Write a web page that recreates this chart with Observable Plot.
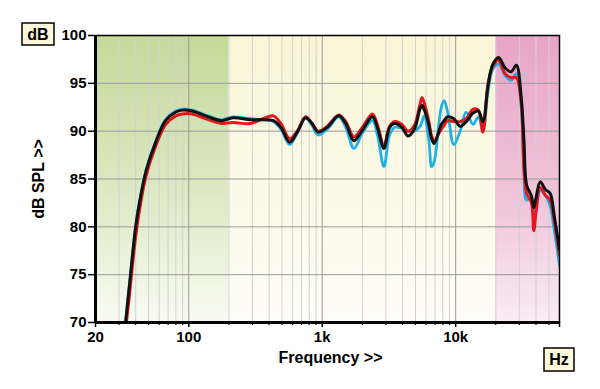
<!DOCTYPE html>
<html><head><meta charset="utf-8">
<script src="https://cdn.jsdelivr.net/npm/d3@7"></script>
<script src="https://cdn.jsdelivr.net/npm/@observablehq/plot@0.6"></script>
<style>body{margin:0;background:#fff}</style>
</head><body><div id="chart"></div>
<script>
// Frequency points (Hz)
const freqs = [32, 33.6, 36, 40, 43, 48, 56, 67, 80, 90, 106, 140, 175, 215, 290, 360, 430, 490, 570, 650,
  750, 840, 930, 1090, 1330, 1500, 1730, 2000, 2380, 2600, 2900, 3200, 3500, 3950, 4400, 4900, 5400, 5600,
  5800, 6300, 6600, 6900, 7800, 8200, 8700, 9700, 10800, 12000, 13500, 14800, 16000, 17500, 19000, 21000,
  23500, 26000, 28500, 31000, 32500, 34000, 37000, 38500, 40000, 43000, 47000, 51000, 55000, 60000];
// Black trace (dB SPL)
const dbBlack = [67.2, 70.0, 74.0, 80.0, 82.75, 85.9, 88.7, 91.1, 92.0, 92.2, 92.1, 91.5, 91.1, 91.4, 91.2, 91.2, 91.1, 90.4, 88.85, 89.9,
  91.4, 90.8, 89.9, 90.4, 91.6, 90.8, 89.0, 90.1, 91.5, 90.3, 88.2, 90.4, 90.8, 90.4, 89.5, 90.2, 92.3, 92.7,
  92.3, 90.6, 89.2, 88.7, 90.7, 91.1, 91.5, 91.3, 90.5, 91.0, 91.9, 92.1, 91.0, 94.8, 97.0, 97.7,
  96.6, 96.2, 96.9, 93.5, 89.0, 84.4, 83.2, 82.0, 83.0, 84.7, 83.9, 83.5, 81.0, 77.6];
// Red trace (dB SPL)
const dbRed = [66.5, 69.2, 73.0, 79.0, 82.0, 85.4, 88.3, 90.7, 91.6, 91.8, 91.8, 91.2, 90.8, 90.9, 90.8, 91.3, 91.6, 90.8, 89.2, 90.0,
  91.5, 90.8, 90.0, 90.5, 91.7, 91.0, 89.4, 90.4, 91.8, 90.6, 88.5, 90.5, 91.0, 90.7, 90.0, 90.6, 92.8, 93.5,
  93.0, 91.0, 89.5, 89.0, 90.2, 90.6, 91.1, 91.0, 91.0, 91.3, 92.3, 92.2, 89.9, 95.0, 96.8, 97.4,
  96.0, 95.6, 95.6, 93.0, 86.0, 83.5, 82.5, 79.6, 81.5, 84.1, 83.3, 82.8, 80.5, 77.0];
// Cyan trace (dB SPL)
const dbCyan = [67.3, 70.1, 74.1, 80.1, 82.8, 86.0, 88.8, 91.2, 92.1, 92.3, 92.2, 91.6, 91.2, 91.5, 91.3, 91.2, 91.0, 90.2, 88.6, 89.8,
  91.4, 90.6, 89.6, 90.2, 91.5, 90.4, 88.2, 89.8, 91.1, 89.5, 86.3, 89.6, 90.4, 90.3, 90.0, 90.0, 90.5, 91.0,
  91.6, 89.0, 86.3, 86.8, 92.5, 93.2, 92.0, 88.6, 90.0, 92.0, 90.7, 91.5, 90.0, 94.2, 96.5, 97.0,
  95.8, 95.3, 96.0, 92.5, 86.0, 82.8, 83.0, 81.4, 82.0, 83.8, 83.3, 82.2, 79.5, 76.0];

const yTicks = [70, 75, 80, 85, 90, 95, 100];
const yGrid = [75, 80, 85, 90, 95];
const xTickValues = [20, 100, 1000, 10000, 60000];
const xTickLabels = ["20", "100", "1k", "10k", "60k"];
const majorGrid = [100, 1000, 10000];
const minorGrid = [30, 40, 50, 60, 70, 80, 90, 200, 300, 400, 500, 600, 700, 800, 900,
  2000, 3000, 4000, 5000, 6000, 7000, 8000, 9000, 20000, 30000, 40000, 50000];
const bandEdges = [[20, 200], [200, 20000], [20000, 60000]];
const bandIds = ["gGreen", "gYellow", "gPink"];
const unitLabels = ["dB", "Hz"];
const axisTitles = ["dB SPL >>", "Frequency >>"];

const FONT = "'Liberation Sans', Arial, sans-serif";
const toRows = vals => freqs.map((f, i) => ({f, db: vals[i]}));

const defs = () => {
  const d = document.createElementNS("http://www.w3.org/2000/svg", "defs");
  d.innerHTML = `
  <linearGradient id="gGreen" x1="0" y1="0" x2="0" y2="1">
    <stop offset="0" stop-color="#c4d99a"/><stop offset="0.55" stop-color="#dde9c4"/><stop offset="1" stop-color="#f9fbf2"/></linearGradient>
  <linearGradient id="gYellow" x1="0" y1="0" x2="0" y2="1">
    <stop offset="0" stop-color="#faf5d6"/><stop offset="1" stop-color="#fdfdf6"/></linearGradient>
  <linearGradient id="gPink" x1="0" y1="0" x2="0" y2="1">
    <stop offset="0" stop-color="#e8a4c6"/><stop offset="0.6" stop-color="#f0c6dc"/><stop offset="1" stop-color="#f9ecf2"/></linearGradient>`;
  return d;
};

const unitBoxes = () => {
  const g = d3.create("svg:g").attr("font-family", FONT).attr("font-weight", "bold");
  const spots = [[22, 23, 32, 22], [544, 348, 30, 23]];
  unitLabels.forEach((t, i) => {
    const [x, y, w, h] = spots[i];
    g.append("rect").attr("x", x).attr("y", y).attr("width", w).attr("height", h)
      .attr("fill", "#fdf8dc").attr("stroke", "#000").attr("stroke-width", 1.5);
    g.append("text").attr("x", x + w / 2).attr("y", y + h / 2).attr("dy", "0.36em")
      .attr("text-anchor", "middle").attr("font-size", 16).attr("fill", "#000").text(t);
  });
  return g.node();
};

const chart = Plot.plot({
  width: 600, height: 389,
  marginLeft: 95, marginRight: 41, marginTop: 35, marginBottom: 67,
  style: {fontFamily: FONT, fontSize: "15px", fontWeight: "bold", background: "white", color: "#000"},
  x: {type: "log", domain: [20, 60000]},
  y: {domain: [70, 100]},
  marks: [
    defs,
    ...bandEdges.map((b, i) => Plot.rect([b], {x1: d => d[0], x2: d => d[1], fill: `url(#${bandIds[i]})`})),
    Plot.ruleX(minorGrid, {stroke: "#d2d2d2", strokeWidth: 1}),
    Plot.ruleX(majorGrid, {stroke: "#9a9a9a", strokeWidth: 1}),
    Plot.ruleY(yGrid, {stroke: "#9a9a9a", strokeWidth: 1}),
    Plot.line(toRows(dbCyan), {x: "f", y: "db", stroke: "#1cb2e6", strokeWidth: 2.8, curve: "catmull-rom", clip: true}),
    Plot.line(toRows(dbRed), {x: "f", y: "db", stroke: "#e6141c", strokeWidth: 3, curve: "catmull-rom", clip: true}),
    Plot.line(toRows(dbBlack), {x: "f", y: "db", stroke: "#111", strokeWidth: 3, curve: "catmull-rom", clip: true}),
    Plot.frame({stroke: "#000", strokeWidth: 1.5}),
    Plot.ruleX([20], {stroke: "#000", strokeWidth: 3}),
    Plot.ruleY([70], {stroke: "#000", strokeWidth: 3}),
    Plot.axisY({ticks: yTicks, tickSize: 7, tickPadding: 2, tickFormat: d => `${d}`, label: null, strokeWidth: 1.5, fontWeight: "bold"}),
    Plot.axisX({ticks: minorGrid, tickSize: 3, tickFormat: () => "", label: null, strokeWidth: 1.2}),
    Plot.axisX({ticks: xTickValues, tickSize: 5, tickPadding: 4, tickFormat: d => xTickLabels[xTickValues.indexOf(d)], label: null, strokeWidth: 1.5, fontWeight: "bold"}),
    Plot.text([axisTitles[0]], {text: d => d, frameAnchor: "left", textAnchor: "middle", dx: -57, rotate: -90, fontSize: 16, fontWeight: "bold"}),
    Plot.text([axisTitles[1]], {text: d => d, frameAnchor: "bottom", textAnchor: "middle", dx: 3, dy: 40, fontSize: 16, fontWeight: "bold"}),
    unitBoxes
  ]
});
document.getElementById("chart").append(chart);
</script>
</body></html>
